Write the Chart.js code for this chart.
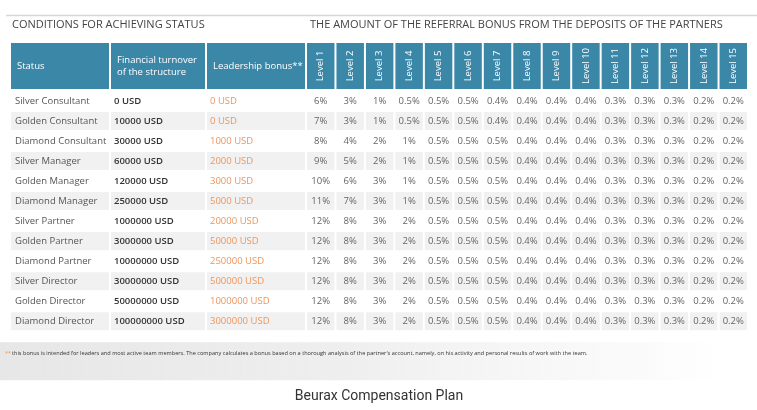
<!DOCTYPE html>
<html>
<head>
<meta charset="utf-8">
<script src="https://cdn.jsdelivr.net/npm/chart.js@4.4.1/dist/chart.umd.min.js"></script>
<style>
  html, body { margin: 0; padding: 0; background: #fff; }
  #wrap { width: 757px; height: 410px; position: relative; }
</style>
</head>
<body>
<div id="wrap"><canvas id="planChart"></canvas></div>
<script>
// table data
const statuses = [
  'Silver Consultant', 'Golden Consultant', 'Diamond Consultant',
  'Silver Manager', 'Golden Manager', 'Diamond Manager',
  'Silver Partner', 'Golden Partner', 'Diamond Partner',
  'Silver Director', 'Golden Director', 'Diamond Director'
];
const turnover = [
  '0 USD', '10000 USD', '30000 USD', '60000 USD', '120000 USD', '250000 USD',
  '1000000 USD', '3000000 USD', '10000000 USD', '30000000 USD', '50000000 USD', '100000000 USD'
];
const leadershipBonus = [
  '0 USD', '0 USD', '1000 USD', '2000 USD', '3000 USD', '5000 USD',
  '20000 USD', '50000 USD', '250000 USD', '500000 USD', '1000000 USD', '3000000 USD'
];
const levelLabels = [
  'Level 1', 'Level 2', 'Level 3', 'Level 4', 'Level 5', 'Level 6', 'Level 7', 'Level 8',
  'Level 9', 'Level 10', 'Level 11', 'Level 12', 'Level 13', 'Level 14', 'Level 15'
];
// referral % per status, level 1..15
const levelRates = [
  [6, 3, 1, 0.5, 0.5, 0.5, 0.4, 0.4, 0.4, 0.4, 0.3, 0.3, 0.3, 0.2, 0.2],
  [7, 3, 1, 0.5, 0.5, 0.5, 0.4, 0.4, 0.4, 0.4, 0.3, 0.3, 0.3, 0.2, 0.2],
  [8, 4, 2, 1, 0.5, 0.5, 0.5, 0.4, 0.4, 0.4, 0.3, 0.3, 0.3, 0.2, 0.2],
  [9, 5, 2, 1, 0.5, 0.5, 0.5, 0.4, 0.4, 0.4, 0.3, 0.3, 0.3, 0.2, 0.2],
  [10, 6, 3, 1, 0.5, 0.5, 0.5, 0.4, 0.4, 0.4, 0.3, 0.3, 0.3, 0.2, 0.2],
  [11, 7, 3, 1, 0.5, 0.5, 0.5, 0.4, 0.4, 0.4, 0.3, 0.3, 0.3, 0.2, 0.2],
  [12, 8, 3, 2, 0.5, 0.5, 0.5, 0.4, 0.4, 0.4, 0.3, 0.3, 0.3, 0.2, 0.2],
  [12, 8, 3, 2, 0.5, 0.5, 0.5, 0.4, 0.4, 0.4, 0.3, 0.3, 0.3, 0.2, 0.2],
  [12, 8, 3, 2, 0.5, 0.5, 0.5, 0.4, 0.4, 0.4, 0.3, 0.3, 0.3, 0.2, 0.2],
  [12, 8, 3, 2, 0.5, 0.5, 0.5, 0.4, 0.4, 0.4, 0.3, 0.3, 0.3, 0.2, 0.2],
  [12, 8, 3, 2, 0.5, 0.5, 0.5, 0.4, 0.4, 0.4, 0.3, 0.3, 0.3, 0.2, 0.2],
  [12, 8, 3, 2, 0.5, 0.5, 0.5, 0.4, 0.4, 0.4, 0.3, 0.3, 0.3, 0.2, 0.2]
];
const mainHeaders = ['Status', 'Financial turnover\nof the structure', 'Leadership bonus**'];
const leftTitle = 'CONDITIONS FOR ACHIEVING STATUS';
const rightTitle = 'THE AMOUNT OF THE REFERRAL BONUS FROM THE DEPOSITS OF THE PARTNERS';
const footnote = 'this bonus is intended for leaders and most active team members. The company calculates a bonus based on a thorough analysis of the partner\'s account, namely, on his activity and personal results of work with the team.';

// layout: column widths in x-axis units (1 unit = 1px)
const colWidths = [100, 96, 100].concat(levelLabels.map(() => 442 / 15));
const colStarts = [];
colWidths.reduce((acc, w) => { colStarts.push(acc); return acc + w; }, 0);
const tableWidth = colWidths.reduce((a, b) => a + b, 0);

const BLUE = '#3b87a8';
const STRIPE = '#f1f1f1';
const FONT = '"Open Sans", sans-serif';

function fmtRate(v) { return v + '%'; }

// one floating bar dataset per column = cell backgrounds
const datasets = colWidths.map((w, c) => ({
  label: c < 3 ? mainHeaders[c] : levelLabels[c - 3],
  data: statuses.map(() => [colStarts[c] + 1, colStarts[c] + w - 1]),
  backgroundColor: statuses.map((s, i) => i % 2 ? STRIPE : 'rgba(255,255,255,0)'),
  borderWidth: 0,
  barPercentage: 0.9,
  categoryPercentage: 1,
  grouped: false
}));

const tablePlugin = {
  id: 'tablePlugin',
  beforeDraw(chart) {
    const { ctx, chartArea } = chart;
    ctx.save();
    // footnote band
    const g = ctx.createLinearGradient(0, 0, 757, 0);
    g.addColorStop(0, 'rgba(228,228,228,0.9)');
    g.addColorStop(0.45, 'rgba(234,234,234,0.8)');
    g.addColorStop(0.85, 'rgba(246,246,246,0.5)');
    g.addColorStop(1, 'rgba(255,255,255,0)');
    ctx.fillStyle = g;
    ctx.fillRect(0, chartArea.bottom + 11, 757, 38);
    // top rule
    ctx.strokeStyle = '#d6d6d6';
    ctx.lineWidth = 1.5;
    ctx.beginPath();
    ctx.moveTo(6, 15.5);
    ctx.lineTo(757, 15.5);
    ctx.stroke();
    // section titles
    ctx.fillStyle = '#444';
    ctx.font = '11px ' + FONT;
    ctx.textBaseline = 'middle';
    ctx.textAlign = 'left';
    ctx.fillText(leftTitle, 12, 25);
    ctx.fillText(rightTitle, 310, 25);
    ctx.restore();
  },
  afterDatasetsDraw(chart) {
    const { ctx, chartArea, scales: { x, y } } = chart;
    ctx.save();
    ctx.textBaseline = 'middle';
    // header row
    const hTop = chartArea.top - 48, hH = 46;
    colWidths.forEach((w, c) => {
      const x0 = x.getPixelForValue(colStarts[c]) + 1;
      const x1 = x.getPixelForValue(colStarts[c] + w) - 1;
      ctx.fillStyle = BLUE;
      ctx.fillRect(x0, hTop, x1 - x0, hH);
      ctx.fillStyle = '#fff';
      if (c < 3) {
        ctx.font = '9.5px ' + FONT;
        ctx.textAlign = 'left';
        const lines = mainHeaders[c].split('\n');
        lines.forEach((ln, k) => {
          ctx.fillText(ln, x0 + 6, hTop + hH / 2 + (k - (lines.length - 1) / 2) * 12);
        });
      } else {
        ctx.font = '9.5px ' + FONT;
        ctx.textAlign = 'center';
        ctx.save();
        ctx.translate((x0 + x1) / 2, hTop + hH / 2);
        ctx.rotate(-Math.PI / 2);
        ctx.fillText(levelLabels[c - 3], 0, 0);
        ctx.restore();
      }
    });
    // body cells
    statuses.forEach((s, i) => {
      const yc = y.getPixelForValue(i) + 0.5;
      ctx.textAlign = 'left';
      ctx.font = '9.5px ' + FONT;
      ctx.fillStyle = '#555';
      ctx.fillText(s, x.getPixelForValue(colStarts[0]) + 5, yc);
      ctx.font = '600 9.5px ' + FONT;
      ctx.fillStyle = '#333';
      ctx.fillText(turnover[i], x.getPixelForValue(colStarts[1]) + 4, yc);
      ctx.font = '9.5px ' + FONT;
      ctx.fillStyle = '#f0955a';
      ctx.fillText(leadershipBonus[i], x.getPixelForValue(colStarts[2]) + 4, yc);
      ctx.textAlign = 'center';
      ctx.fillStyle = '#666';
      levelRates[i].forEach((v, l) => {
        const c = l + 3;
        ctx.fillText(fmtRate(v), x.getPixelForValue(colStarts[c] + colWidths[c] / 2), yc);
      });
    });
    // footnote
    const fy = chartArea.bottom + 22;
    ctx.textAlign = 'left';
    ctx.font = '5.6px ' + FONT;
    ctx.fillStyle = '#f0955a';
    ctx.fillText('**', 5, fy);
    ctx.fillStyle = '#333';
    ctx.fillText(footnote, 12, fy);
    ctx.restore();
  }
};

function createChart() {
  new Chart(document.getElementById('planChart'), {
    type: 'bar',
    data: { labels: statuses, datasets: datasets },
    options: {
      indexAxis: 'y',
      responsive: true,
      maintainAspectRatio: false,
      animation: false,
      layout: { padding: { left: 10, right: 757 - 10 - tableWidth, top: 91, bottom: 0 } },
      scales: {
        x: { type: 'linear', min: 0, max: tableWidth, display: false },
        y: { type: 'category', display: false }
      },
      plugins: {
        legend: { display: false },
        tooltip: { enabled: false },
        title: {
          display: true,
          position: 'bottom',
          text: 'Beurax Compensation Plan',
          color: '#333',
          font: { family: 'Roboto', size: 14, weight: 'normal' },
          padding: { top: 57, bottom: 5 }
        }
      }
    },
    plugins: [tablePlugin]
  });
}

Promise.all([
  document.fonts.load('9.5px "Open Sans"'),
  document.fonts.load('600 9.5px "Open Sans"'),
  document.fonts.load('14px Roboto')
]).catch(() => {}).then(createChart);
</script>
</body>
</html>
